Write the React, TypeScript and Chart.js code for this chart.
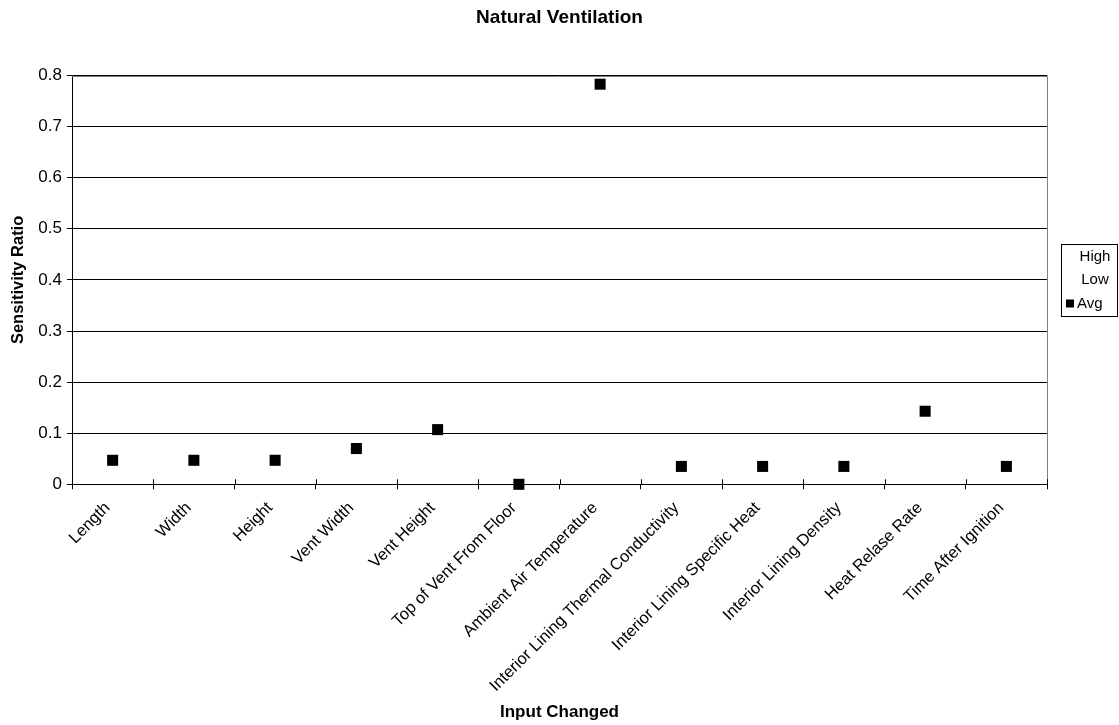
import React, { useEffect, useRef } from 'react';
import { Chart, registerables } from 'chart.js';

Chart.register(...registerables);

const categories = [
  'Length',
  'Width',
  'Height',
  'Vent Width',
  'Vent Height',
  'Top of Vent From Floor',
  'Ambient Air Temperature',
  'Interior Lining Thermal Conductivity',
  'Interior Lining Specific Heat',
  'Interior Lining Density',
  'Heat Relase Rate',
  'Time After Ignition',
];
const avgValues = [0.047, 0.047, 0.047, 0.07, 0.107, 0, 0.783, 0.035, 0.035, 0.035, 0.143, 0.035];
const seriesNames = ['High', 'Low', 'Avg'];
const yMin = 0;
const yMax = 0.8;
const yStep = 0.1;
const chartTitle = 'Natural Ventilation';
const xTitle = 'Input Changed';
const yTitle = 'Sensitivity Ratio';

const FONT = "'Liberation Sans', Arial, Helvetica, sans-serif";

const plotFramePlugin = {
  id: 'plotFrame',
  beforeDatasetsDraw(chart: any) {
    const { ctx, chartArea } = chart;
    const xs = chart.scales.x;
    ctx.save();
    ctx.strokeStyle = '#808080';
    ctx.lineWidth = 1;
    ctx.beginPath();
    ctx.moveTo(chartArea.left, Math.round(chartArea.top) + 0.5);
    ctx.lineTo(chartArea.right, Math.round(chartArea.top) + 0.5);
    ctx.moveTo(Math.round(chartArea.right) + 0.5, chartArea.top);
    ctx.lineTo(Math.round(chartArea.right) + 0.5, chartArea.bottom);
    ctx.stroke();
    ctx.strokeStyle = '#000';
    ctx.beginPath();
    for (let i = 0; i <= categories.length; i++) {
      const px = Math.round(xs.getPixelForValue(i - 0.5)) + 0.5;
      ctx.moveTo(px, chartArea.bottom);
      ctx.lineTo(px, chartArea.bottom - 5);
    }
    ctx.stroke();
    ctx.restore();
  },
};

const boxLegendPlugin = {
  id: 'boxLegend',
  afterDraw(chart: any) {
    const { ctx, chartArea } = chart;
    const left = Math.round(chartArea.right) + 14;
    const w = 56;
    const h = 72;
    const top = Math.round((chartArea.top + chartArea.bottom) / 2 - h / 2);
    ctx.save();
    ctx.fillStyle = '#fff';
    ctx.fillRect(left, top, w, h);
    ctx.strokeStyle = '#000';
    ctx.lineWidth = 1;
    ctx.strokeRect(left + 0.5, top + 0.5, w, h);
    ctx.font = `15px ${FONT}`;
    ctx.textBaseline = 'middle';
    ctx.fillStyle = '#000';
    const datasets = chart.data.datasets;
    datasets.forEach((ds: any, i: number) => {
      const cy = top + 12.5 + i * 23.5;
      if (ds.pointRadius > 0) {
        ctx.fillStyle = ds.backgroundColor;
        ctx.fillRect(left + 5, cy - 4, 8, 8);
        ctx.fillStyle = '#000';
        ctx.textAlign = 'left';
        ctx.fillText(ds.label, left + 16, cy);
      } else {
        ctx.textAlign = 'center';
        ctx.fillText(ds.label, left + 34, cy);
      }
    });
    ctx.restore();
  },
};

export default function App() {
  const canvasRef = useRef<HTMLCanvasElement | null>(null);

  useEffect(() => {
    document.body.style.margin = '0';
    const canvas = canvasRef.current;
    if (!canvas) return;
    Chart.defaults.color = '#000';
    Chart.defaults.font.family = FONT;

    const chart = new Chart(canvas, {
      type: 'line',
      data: {
        labels: categories,
        datasets: [
          {
            label: seriesNames[0],
            data: [],
            showLine: false,
            pointRadius: 0,
            backgroundColor: 'transparent',
            borderColor: 'transparent',
          },
          {
            label: seriesNames[1],
            data: [],
            showLine: false,
            pointRadius: 0,
            backgroundColor: 'transparent',
            borderColor: 'transparent',
          },
          {
            label: seriesNames[2],
            data: avgValues,
            showLine: false,
            clip: false,
            pointStyle: 'rect',
            pointRadius: 7.8,
            pointHoverRadius: 7.8,
            borderWidth: 0,
            backgroundColor: '#000',
            borderColor: '#000',
          },
        ],
      },
      options: {
        responsive: false,
        animation: false,
        devicePixelRatio: 1,
        layout: { padding: { left: 0, right: 0, top: 0, bottom: 0 } },
        events: [],
        plugins: {
          legend: { display: false },
          tooltip: { enabled: false },
          title: {
            display: true,
            text: chartTitle,
            color: '#000',
            font: { family: FONT, size: 19, weight: 'bold' },
            padding: { top: 6, bottom: 46.7 },
          },
        },
        scales: {
          x: {
            type: 'category',
            offset: true,
            grid: {
              offset: true,
              drawOnChartArea: false,
              drawTicks: true,
              tickLength: 5,
              tickColor: '#000',
              color: '#000',
            },
            border: { display: true, color: '#000', width: 1 },
            ticks: {
              autoSkip: false,
              minRotation: 45,
              maxRotation: 45,
              padding: 9,
              labelOffset: -5,
              color: '#000',
              font: { family: FONT, size: 16.5 },
            },
            title: {
              display: true,
              text: xTitle,
              color: '#000',
              font: { family: FONT, size: 17, weight: 'bold' },
              padding: { top: 0, bottom: 2 },
            },
            afterFit: (s: any) => {
              s.height = 240.7;
            },
          },
          y: {
            type: 'linear',
            position: 'left',
            min: yMin,
            max: yMax,
            ticks: {
              stepSize: yStep,
              padding: 5,
              color: '#000',
              font: { family: FONT, size: 17 },
              callback: (v: any) => String(Number(Number(v).toFixed(1))),
            },
            grid: {
              color: '#000',
              lineWidth: 1,
              drawTicks: true,
              tickLength: 5,
              tickColor: '#000',
            },
            border: { display: true, color: '#000', width: 1 },
            title: {
              display: true,
              text: yTitle,
              color: '#000',
              font: { family: FONT, size: 16.5, weight: 'bold' },
              padding: { top: 9, bottom: 0 },
            },
            afterFit: (s: any) => {
              s.width = 72;
            },
          },
          legendSpace: {
            type: 'linear',
            position: 'right',
            display: true,
            grid: { display: false, drawTicks: false },
            border: { display: false },
            ticks: { display: false },
            afterFit: (s: any) => {
              s.width = 72;
            },
          },
        },
      },
      plugins: [plotFramePlugin, boxLegendPlugin],
    } as any);

    return () => chart.destroy();
  }, []);

  return (
    <div style={{ position: 'absolute', left: 0, top: 0, width: 1119, height: 725, background: '#fff' }}>
      <canvas ref={canvasRef} width={1119} height={725} style={{ display: 'block' }} />
    </div>
  );
}
